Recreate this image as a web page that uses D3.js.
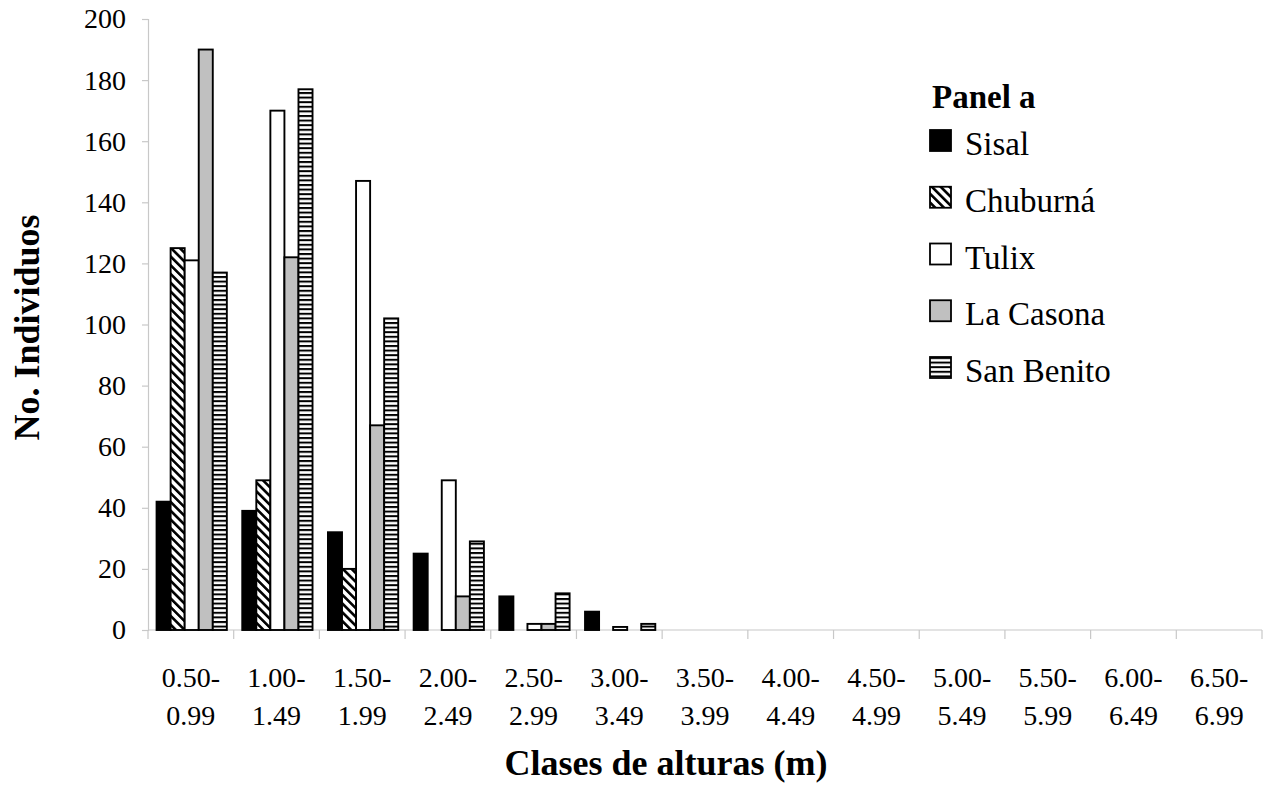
<!DOCTYPE html>
<html>
<head>
<meta charset="utf-8">
<script src="https://cdn.jsdelivr.net/npm/d3@7"></script>
<style>
  body { margin: 0; background: #fff; }
  svg text { font-family: "Liberation Serif", "Times New Roman", serif; }
</style>
</head>
<body>
<div id="chart"></div>
<script>
// height classes (two-line labels)
const categories = ["0.50-0.99", "1.00-1.49", "1.50-1.99", "2.00-2.49", "2.50-2.99", "3.00-3.49",
    "3.50-3.99", "4.00-4.49", "4.50-4.99", "5.00-5.49", "5.50-5.99", "6.00-6.49", "6.50-6.99"];
const seriesNames = ["Sisal", "Chuburná", "Tulix", "La Casona", "San Benito"];
const sisal     = [42, 39, 32, 25, 11, 6, 0, 0, 0, 0, 0, 0, 0];
const chuburna  = [125, 49, 20, 0, 0, 0, 0, 0, 0, 0, 0, 0, 0];
const tulix     = [121, 170, 147, 49, 2, 1, 0, 0, 0, 0, 0, 0, 0];
const laCasona  = [190, 122, 67, 11, 2, 0, 0, 0, 0, 0, 0, 0, 0];
const sanBenito = [117, 177, 102, 29, 12, 2, 0, 0, 0, 0, 0, 0, 0];
const yTicks = [0, 20, 40, 60, 80, 100, 120, 140, 160, 180, 200];

const seriesValues = [sisal, chuburna, tulix, laCasona, sanBenito];
const fills = ["#000", "url(#diag)", "#fff", "#c0c0c0", "url(#hstripe)"];

const width = 1266, height = 787;
const plot = { left: 148, right: 1262, top: 19, bottom: 630 };
const axisColor = "#c8c8c8";

const svg = d3.select("#chart").append("svg")
    .attr("width", width)
    .attr("height", height);

// hatch patterns
const defs = svg.append("defs");
const diag = defs.append("pattern")
    .attr("id", "diag")
    .attr("patternUnits", "userSpaceOnUse")
    .attr("width", 6.2).attr("height", 6.2)
    .attr("patternTransform", "rotate(-45)");
diag.append("rect").attr("width", 6.2).attr("height", 6.2).attr("fill", "#fff");
diag.append("rect").attr("width", 2.6).attr("height", 6.2).attr("fill", "#000");

const hs = defs.append("pattern")
    .attr("id", "hstripe")
    .attr("patternUnits", "userSpaceOnUse")
    .attr("width", 6).attr("height", 4.6);
hs.append("rect").attr("width", 6).attr("height", 4.6).attr("fill", "#fff");
hs.append("rect").attr("width", 6).attr("height", 2).attr("fill", "#000");

const x0 = d3.scaleBand()
    .domain(categories)
    .range([plot.left, plot.right]);

const x1 = d3.scaleBand()
    .domain(d3.range(seriesNames.length))
    .range([x0.bandwidth() * 0.1, x0.bandwidth() * 0.92]);

const y = d3.scaleLinear()
    .domain([0, 200])
    .range([plot.bottom, plot.top]);

// y axis
const yAxis = svg.append("g")
    .attr("transform", `translate(${plot.left},0)`)
    .call(d3.axisLeft(y).tickValues(yTicks).tickSize(6).tickPadding(16));
yAxis.attr("font-family", null);
yAxis.select(".domain").attr("stroke", axisColor).attr("stroke-width", 1.2);
yAxis.selectAll(".tick line").attr("stroke", axisColor).attr("stroke-width", 1.2);
yAxis.selectAll(".tick text")
    .attr("font-size", 28)
    .attr("fill", "#000");

// x axis line and boundary ticks
const xAxis = svg.append("g");
xAxis.append("line")
    .attr("x1", plot.left).attr("x2", plot.right)
    .attr("y1", plot.bottom).attr("y2", plot.bottom)
    .attr("stroke", axisColor).attr("stroke-width", 1.2);
xAxis.selectAll(".xtick")
    .data(categories.concat([null]))
    .join("line")
    .attr("x1", (d, i) => i < categories.length ? x0(d) : plot.right)
    .attr("x2", (d, i) => i < categories.length ? x0(d) : plot.right)
    .attr("y1", plot.bottom).attr("y2", plot.bottom + 9)
    .attr("stroke", axisColor).attr("stroke-width", 1.2);

const xLabels = xAxis.selectAll(".xlabel")
    .data(categories)
    .join("text")
    .attr("text-anchor", "middle")
    .attr("font-size", 28)
    .attr("fill", "#000");
xLabels.append("tspan")
    .attr("x", d => x0(d) + x0.bandwidth() / 2)
    .attr("y", 687)
    .text(d => d.split("-")[0] + "-");
xLabels.append("tspan")
    .attr("x", d => x0(d) + x0.bandwidth() / 2)
    .attr("y", 725)
    .text(d => d.split("-")[1]);

// bars
const barData = [];
categories.forEach((c, ci) => {
    seriesValues.forEach((vals, si) => {
        if (vals[ci] > 0) barData.push({ cat: c, s: si, v: vals[ci] });
    });
});

svg.append("g")
    .selectAll("rect")
    .data(barData)
    .join("rect")
    .attr("x", d => x0(d.cat) + x1(d.s))
    .attr("y", d => y(d.v))
    .attr("width", x1.bandwidth())
    .attr("height", d => y(0) - y(d.v))
    .attr("fill", d => fills[d.s])
    .attr("stroke", "#000")
    .attr("stroke-width", 1.9);

// axis titles
svg.append("text")
    .attr("transform", `translate(39,${(plot.top + plot.bottom) / 2 + 3}) rotate(-90)`)
    .attr("text-anchor", "middle")
    .attr("font-size", 36)
    .attr("font-weight", "bold")
    .text("No. Individuos");

svg.append("text")
    .attr("x", 666)
    .attr("y", 775)
    .attr("text-anchor", "middle")
    .attr("font-size", 36)
    .attr("font-weight", "bold")
    .text("Clases de alturas (m)");

// legend
const legend = svg.append("g").attr("transform", "translate(930,0)");
legend.append("text")
    .attr("x", 2).attr("y", 108)
    .attr("font-size", 33)
    .attr("font-weight", "bold")
    .text("Panel a");

const item = legend.selectAll(".item")
    .data(seriesNames)
    .join("g")
    .attr("transform", (d, i) => `translate(0,${130 + i * 56.75})`);
item.append("rect")
    .attr("width", 21).attr("height", 21)
    .attr("fill", (d, i) => fills[i])
    .attr("stroke", "#000")
    .attr("stroke-width", 1.8);
item.append("text")
    .attr("x", 35).attr("y", 25)
    .attr("font-size", 33)
    .text(d => d);
</script>
</body>
</html>
